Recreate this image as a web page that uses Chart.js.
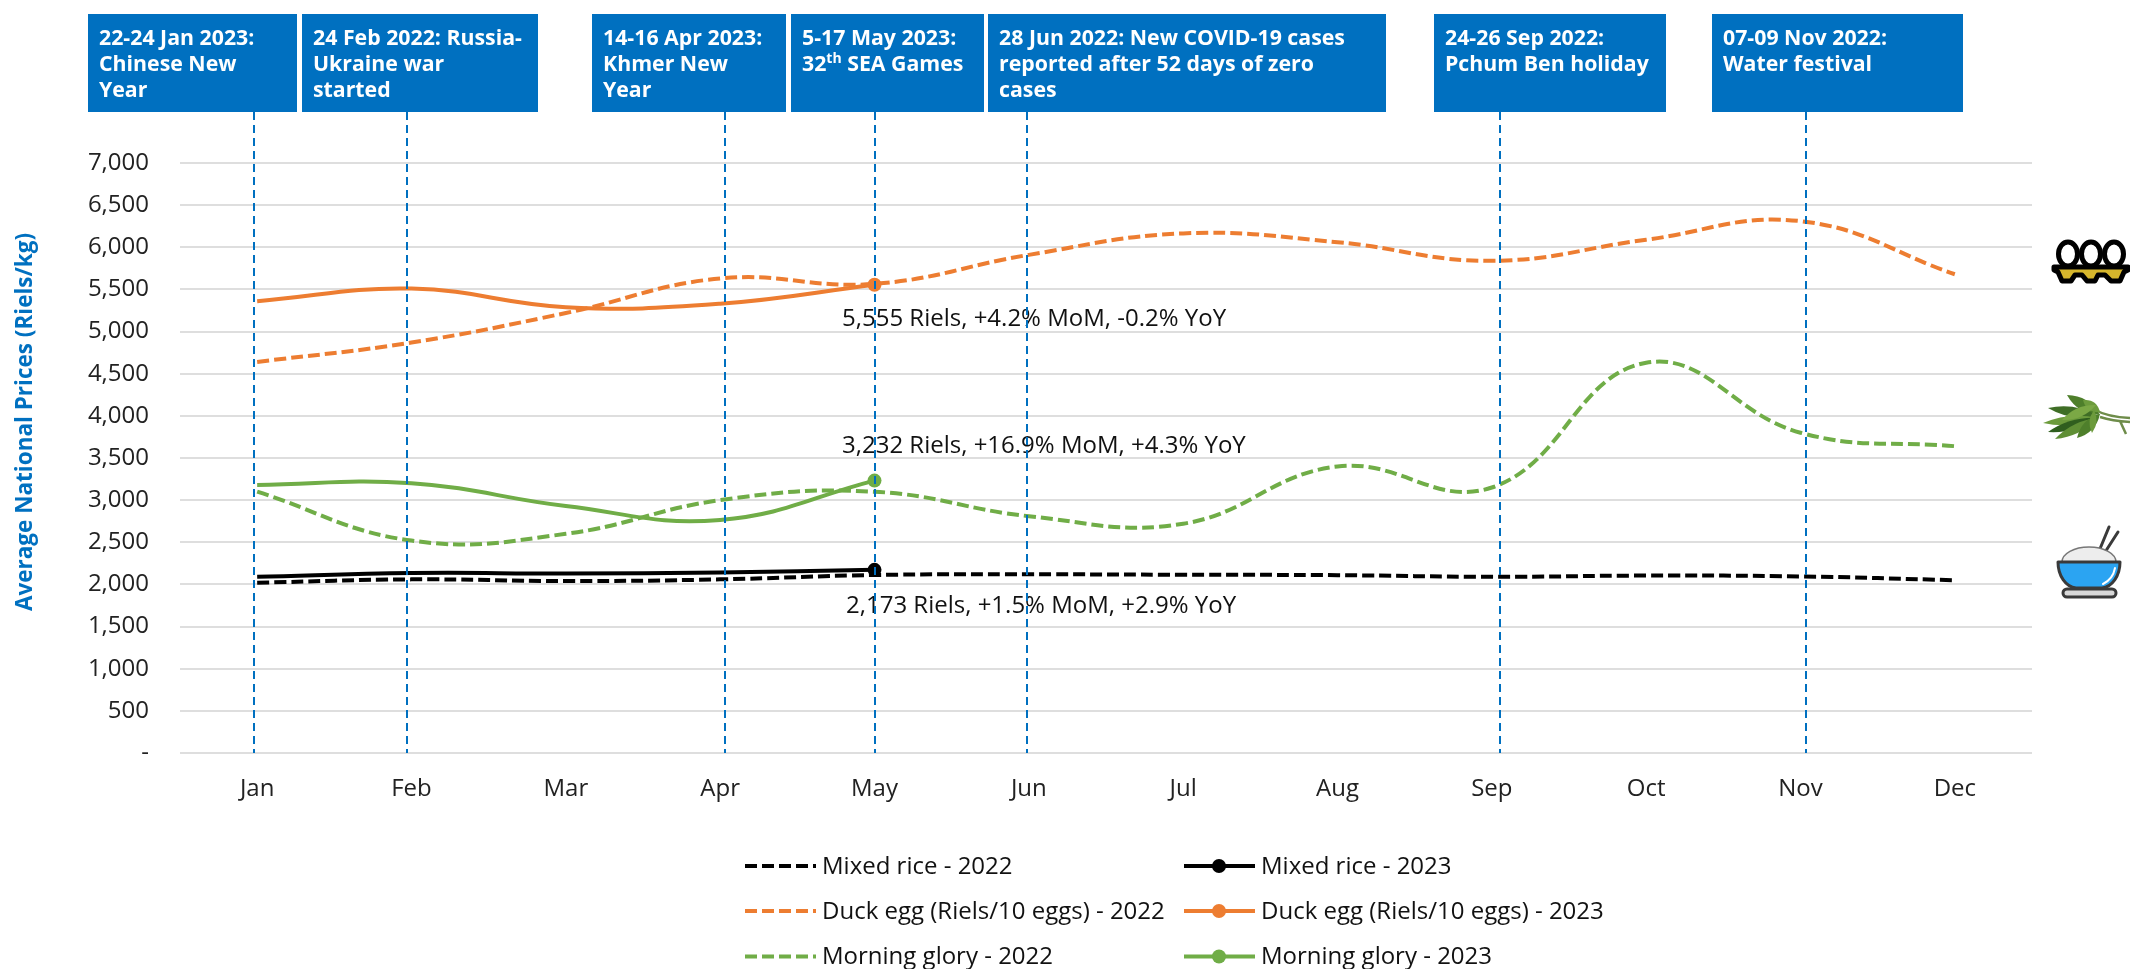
<!DOCTYPE html>
<html><head><meta charset="utf-8">
<style>html,body{margin:0;padding:0;background:#fff;overflow:hidden}canvas{display:block}</style>
<script src="https://cdn.jsdelivr.net/npm/chart.js@4/dist/chart.umd.min.js"></script>
</head><body><canvas id="c" width="2130" height="969"></canvas>
<script>
const months = ["Jan","Feb","Mar","Apr","May","Jun","Jul","Aug","Sep","Oct","Nov","Dec"];
const rice2022 = [2020,2060,2040,2060,2112,2120,2115,2110,2090,2105,2095,2050];
const rice2023 = [2090,2135,2130,2141,2173];
const duck2022 = [4640,4870,5220,5630,5566,5910,6165,6060,5840,6090,6310,5680];
const duck2023 = [5360,5510,5290,5330,5555];
const glory2022 = [3100,2520,2600,3000,3100,2810,2720,3400,3150,4630,3800,3640];
const glory2023 = [3180,3200,2930,2765,3232];
const eventPositions = [-0.02,0.974,3.03,4.0,4.99,8.05,10.035];
const eventBoxes = [
  {l:88,r:297,lines:["22-24 Jan 2023:","Chinese New","Year"]},
  {l:302,r:538,lines:["24 Feb 2022: Russia-","Ukraine war","started"]},
  {l:592,r:786,lines:["14-16 Apr 2023:","Khmer New","Year"]},
  {l:791,r:984,lines:["5-17 May 2023:","32|th| SEA Games"]},
  {l:988,r:1386,lines:["28 Jun 2022: New COVID-19 cases","reported after 52 days of zero","cases"]},
  {l:1434,r:1666,lines:["24-26 Sep 2022:","Pchum Ben holiday"]},
  {l:1712,r:1963,lines:["07-09 Nov 2022:","Water festival"]}
];
const callouts = [
  {text:"5,555 Riels, +4.2% MoM, -0.2% YoY",x:842,y:319},
  {text:"3,232 Riels, +16.9% MoM, +4.3% YoY",x:842,y:446},
  {text:"2,173 Riels, +1.5% MoM, +2.9% YoY",x:846,y:606}
];
const BLACK="#000000",ORANGE="#ED7D31",GREEN="#70AD47",BLUE="#0070C0";
const FF='"Open Sans"';
function ds(label,data,color,dashed){
  return {label,data,borderColor:color,backgroundColor:color,borderWidth:4,
    borderDash:dashed?[12,5]:[],tension:0.42,fill:false,spanGaps:false,
    pointRadius:dashed?0:(c=>c.dataIndex===4?7:0),pointHoverRadius:0,pointBorderWidth:0,
    borderCapStyle:'butt',clip:false};
}
const overlay={
  id:'overlay',
  afterDatasetsDraw(chart){
    const ctx=chart.ctx,x=chart.scales.x,y=chart.scales.y;
    ctx.save();
    ctx.fillStyle="#111";ctx.font='24px '+FF;ctx.textAlign='left';ctx.textBaseline='middle';
    callouts.forEach(c=>ctx.fillText(c.text,c.x,c.y));
    ctx.strokeStyle=BLUE;ctx.lineWidth=2;ctx.setLineDash([8,5]);
    eventPositions.forEach(p=>{const px=Math.round(x.getPixelForValue(p));
      ctx.beginPath();ctx.moveTo(px,112);ctx.lineTo(px,y.bottom);ctx.stroke();});
    ctx.setLineDash([]);
    eventBoxes.forEach(b=>{
      ctx.fillStyle=BLUE;ctx.fillRect(b.l,14,b.r-b.l,98);
      ctx.fillStyle="#fff";ctx.textBaseline='alphabetic';
      b.lines.forEach((ln,i)=>{
        const by=45+i*25.8;let cx=b.l+11;
        ln.split('|').forEach((part,j)=>{
          const sup=j===1;
          ctx.font='bold '+(sup?14:21.3)+'px '+FF;
          ctx.fillText(part,cx,sup?by-8:by);
          cx+=ctx.measureText(part).width;
        });
      });
    });
    ctx.save();ctx.translate(26,422);ctx.rotate(-Math.PI/2);
    ctx.fillStyle=BLUE;ctx.font='bold 22.5px '+FF;ctx.textAlign='center';ctx.textBaseline='middle';
    ctx.fillText("Average National Prices (Riels/kg)",0,0);ctx.restore();
    const sets=chart.data.datasets;
    const colX=[745,1184],rowY=[866,911,956.5];
    sets.forEach((d,i)=>{
      const sx=colX[i%2],sy=rowY[Math.floor(i/2)];
      ctx.strokeStyle=d.borderColor;ctx.lineWidth=4;ctx.setLineDash(d.borderDash);
      ctx.beginPath();ctx.moveTo(sx,sy);ctx.lineTo(sx+71,sy);ctx.stroke();ctx.setLineDash([]);
      if(i%2===1){ctx.fillStyle=d.borderColor;ctx.beginPath();ctx.arc(sx+35,sy,7,0,7);ctx.fill();}
      ctx.fillStyle="#111";ctx.font='24px '+FF;ctx.textAlign='left';ctx.textBaseline='middle';
      ctx.fillText(d.label,sx+77,sy+1);
    });
    drawEgg(ctx);drawGlory(ctx);drawBowl(ctx);
    ctx.restore();
  }
};
function drawEgg(ctx){
  ctx.lineWidth=5;ctx.strokeStyle="#000";ctx.fillStyle="#fff";ctx.lineJoin='round';
  [2068,2091,2114].forEach(cx=>{ctx.beginPath();ctx.ellipse(cx,254,9.5,12,0,0,7);ctx.fill();ctx.stroke();});
  ctx.fillStyle="#D6B62C";
  ctx.beginPath();ctx.moveTo(2054,267);ctx.lineTo(2128,267);ctx.lineTo(2128,270);ctx.lineTo(2124,272);
  ctx.lineTo(2120,281);ctx.lineTo(2111,281);ctx.lineTo(2105,275);ctx.lineTo(2098,275);ctx.lineTo(2095,281);
  ctx.lineTo(2087,281);ctx.lineTo(2082,275);ctx.lineTo(2075,275);ctx.lineTo(2071,281);ctx.lineTo(2062,281);ctx.lineTo(2058,272);ctx.lineTo(2054,270);
  ctx.closePath();ctx.fill();ctx.stroke();
}
function leaf(ctx,tx,ty,bx,by,w,color){
  const mx=(tx+bx)/2,my=(ty+by)/2,dx=bx-tx,dy=by-ty,len=Math.hypot(dx,dy),nx=-dy/len*w,ny=dx/len*w;
  ctx.fillStyle=color;ctx.beginPath();ctx.moveTo(tx,ty);
  ctx.quadraticCurveTo(mx+nx,my+ny,bx,by);ctx.quadraticCurveTo(mx-nx,my-ny,tx,ty);ctx.fill();
}
function drawGlory(ctx){
  ctx.strokeStyle="#6E8C4A";ctx.lineWidth=2.5;
  ctx.beginPath();ctx.moveTo(2095,410);ctx.quadraticCurveTo(2108,417,2130,418);
  ctx.moveTo(2100,417);ctx.quadraticCurveTo(2112,421,2130,422);ctx.moveTo(2120,421);ctx.lineTo(2126,434);ctx.stroke();
  leaf(ctx,2067,395,2100,415,11,"#4E7F2B");
  leaf(ctx,2083,400,2100,412,9,"#6C9B3C");
  leaf(ctx,2048,408,2098,416,10,"#3F6E26");
  leaf(ctx,2043,423,2098,418,9,"#6C9B3C");
  leaf(ctx,2048,432,2098,418,9,"#2F5E1E");
  leaf(ctx,2055,439,2098,418,9,"#5F8F35");
  leaf(ctx,2077,438,2100,414,10,"#4E7F2B");
  leaf(ctx,2092,433,2094,410,7,"#6C9B3C");
  leaf(ctx,2062,420,2096,405,9,"#7BA845");
}
function drawBowl(ctx){
  ctx.strokeStyle="#3A3A3A";ctx.lineWidth=3;ctx.lineCap='round';
  ctx.beginPath();ctx.moveTo(2097,556);ctx.lineTo(2109,527);ctx.moveTo(2100,560);ctx.lineTo(2118,532);ctx.stroke();
  ctx.fillStyle="#EDEDED";ctx.lineWidth=1.5;ctx.strokeStyle="#777";ctx.beginPath();ctx.ellipse(2089,562,27,15,0,Math.PI,0);ctx.closePath();ctx.fill();ctx.stroke();
  ctx.strokeStyle="#3A3A3A";ctx.fillStyle="#2BA4F2";ctx.lineWidth=3;ctx.beginPath();ctx.moveTo(2058,562);ctx.lineTo(2120,562);
  ctx.bezierCurveTo(2120,576,2112,587,2102,588);ctx.lineTo(2076,588);ctx.bezierCurveTo(2066,587,2058,576,2058,562);ctx.closePath();ctx.fill();ctx.stroke();
  ctx.strokeStyle="#fff";ctx.lineWidth=2;ctx.beginPath();ctx.moveTo(2103,584);ctx.quadraticCurveTo(2113,579,2115,568);ctx.stroke();
  ctx.strokeStyle="#3A3A3A";ctx.lineWidth=3;ctx.fillStyle="#D9D9D9";ctx.beginPath();ctx.roundRect(2063,589,53,8,4);ctx.fill();ctx.stroke();
  ctx.lineCap='butt';
}
new Chart(document.getElementById('c'),{
  type:'line',
  data:{labels:months,datasets:[
    ds("Mixed rice - 2022",rice2022,BLACK,true),
    ds("Mixed rice - 2023",rice2023,BLACK,false),
    ds("Duck egg (Riels/10 eggs) - 2022",duck2022,ORANGE,true),
    ds("Duck egg (Riels/10 eggs) - 2023",duck2023,ORANGE,false),
    ds("Morning glory - 2022",glory2022,GREEN,true),
    ds("Morning glory - 2023",glory2023,GREEN,false)
  ]},
  options:{
    responsive:false,animation:false,events:[],
    layout:{padding:{left:0,right:98,top:163,bottom:0}},
    plugins:{legend:{display:false},title:{display:false},tooltip:{enabled:false}},
    scales:{
      x:{offset:true,grid:{display:false,drawTicks:false},border:{display:false},
        ticks:{color:"#222",font:{family:FF,size:24},padding:22,maxRotation:0,autoSkip:false},
        afterFit(s){s.height=216;}},
      y:{min:0,max:7000,grid:{color:"#DEDEDE",lineWidth:2,drawTicks:false},border:{display:false},
        ticks:{stepSize:500,color:"#222",font:{family:FF,size:24},padding:31,
          callback:v=>v===0?"-":v.toLocaleString('en-US')},
        afterFit(s){s.width=180;}}
    }
  },
  plugins:[overlay]
});
</script></body></html>
